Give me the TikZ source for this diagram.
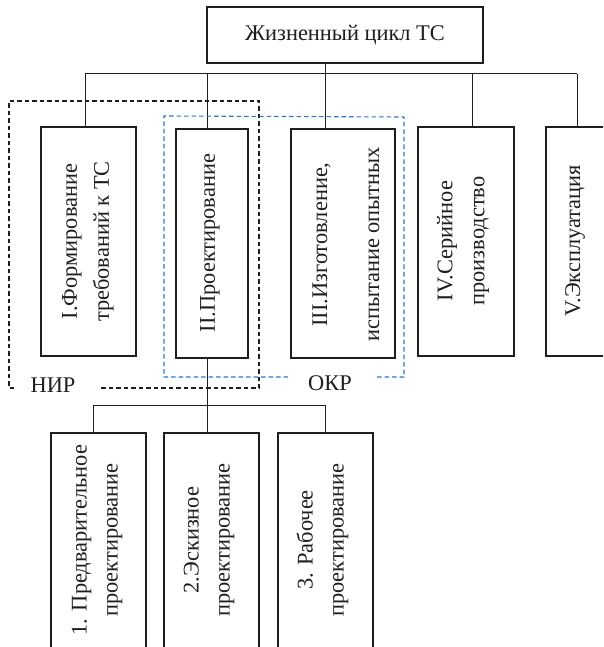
\documentclass[tikz,border=0pt]{standalone}
\usepackage{fontspec}
\setmainfont{Liberation Serif}
\definecolor{okrblue}{RGB}{45,120,200}
\definecolor{ink}{RGB}{30,30,30}
\begin{document}
\begin{tikzpicture}[x=1pt,y=-1pt,
  stagebox/.style={draw=ink, line width=1.2pt, rectangle, inner sep=0pt, minimum height=229pt},
  subbox/.style={draw=ink, line width=1.2pt, rectangle, inner sep=0pt, minimum width=95pt, minimum height=240pt},
  vtext/.style={rotate=90, align=center, inner sep=0pt, text=ink, font=\fontsize{22.4}{32}\selectfont},
  subtext/.style={vtext, font=\fontsize{22.4}{31}\selectfont},
  conn/.style={draw=ink, line width=1pt},
  lbl/.style={inner sep=0pt, text=ink, font=\fontsize{22.4}{26}\selectfont},
  nirline/.style={draw=ink, dash pattern=on 4.5pt off 3pt, line width=1.1pt},
  okrline/.style={draw=okrblue, dash pattern=on 4.5pt off 3pt, line width=1.1pt}]
\useasboundingbox (0,0) rectangle (603,647);
\clip (0,0) rectangle (603,647);
\fill[white] (0,0) rectangle (603,647);

% top box
\node[draw=ink, line width=1.2pt, minimum width=276pt, minimum height=56pt, inner sep=0pt, lbl] (top) at (345,35) {Жизненный цикл ТС};

% stage boxes
\node[stagebox, minimum width=95pt] (b1) at (88.5,241.5) {};
\node[stagebox, minimum width=72pt] (b2) at (212,243.5) {};
\node[stagebox, minimum width=104pt] (b3) at (343,243.5) {};
\node[stagebox, minimum width=96pt] (b4) at (466,241.5) {};
\node[stagebox, minimum width=96pt] (b5) at (594,241.5) {};

\node[vtext] (t1) at (88,241.5) {I.Формирование\\требований к ТС};
\node[vtext] (t2) at (210,243) {II.Проектирование};
\node[vtext] (t3) at (346,244.5) {III.Изготовление,\\[20pt]испытание опытных};
\node[vtext] (t4) at (463,241) {IV.Серийное\\производство};
\node[vtext] (t5) at (575,241) {V.Эксплуатация};

% sub boxes
\node[subbox] (s1) at (98.5,553) {};
\node[subbox] (s2) at (211.5,553) {};
\node[subbox] (s3) at (325.5,553) {};
\node[subtext] (u1) at (97,540) {1. Предварительное\\проектирование};
\node[subtext] (u2) at (209,540) {2.Эскизное\\проектирование};
\node[subtext] (u3) at (322.5,540) {3. Рабочее\\проектирование};

% connectors top
\coordinate (j1) at (85,74);
\coordinate (j2) at (207,74);
\coordinate (j3) at (325,74);
\coordinate (j4) at (472,74);
\coordinate (j5) at (577,74);
\draw[conn] (j1) -- (j5);
\draw[conn] (top.south -| j3) -- (j3);
\foreach \j/\b in {j1/b1, j2/b2, j3/b3, j4/b4, j5/b5}
  \draw[conn] (\j) -- (\j |- \b.north);

% connectors sub
\coordinate (k1) at (93,405);
\coordinate (k2) at (207,405);
\coordinate (k3) at (325,405);
\draw[conn] (b2.south -| k2) -- (k2);
\draw[conn] (k1) -- (k3);
\foreach \k/\s in {k1/s1, k2/s2, k3/s3}
  \draw[conn] (\k) -- (\k |- \s.north);

% group frames
\node[lbl] (nir) at (53,385) {НИР};
\node[lbl] (okr) at (330,383) {ОКР};
\draw[nirline] (14,388) -- (9,388) -- (9,101) -- (259,101) -- (259,388) -- (99,388);
\draw[okrline] (288,377) -- (164,377) -- (164,116) -- (404,117) -- (404,377) -- (374,377);
\end{tikzpicture}
\end{document}
